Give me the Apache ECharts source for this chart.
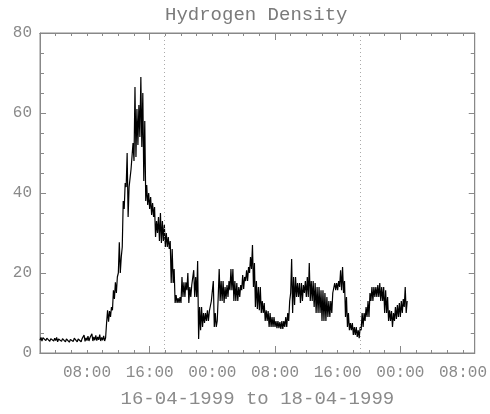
<!DOCTYPE html>
<html>
<head>
<meta charset="utf-8">
<title>Hydrogen Density</title>
<script src="https://cdn.jsdelivr.net/npm/echarts@6/dist/echarts.min.js"></script>
<style>
  html, body { margin: 0; padding: 0; background: #fff; }
  #chart { width: 490px; height: 414px; }
</style>
</head>
<body>
<div id="chart"></div>
<script>
// hours counted from 16-04-1999 00:00, one reading every quarter hour
// the trace is noisy, so each reading keeps its low and high edge
var startHour = 2;
var stepHour = 0.25;
var densityLow = [
  3.2, 3.0, 3.3, 3.1, 3.2, 2.9, 3.2, 3.0, 3.1, 2.8,
  3.0, 2.9, 3.2, 2.8, 3.0, 2.7, 3.1, 2.9, 3.2, 2.8,
  3.0, 2.8, 3.3, 2.9, 3.1, 3.0, 3.4, 3.0, 3.2, 3.1,
  3.3, 3.0, 3.2, 3.0, 7.5, 7.8, 9.0, 10.7, 13.5, 15.0,
  20.0, 20.0, 26.5, 36.0, 41.5, 34.0, 41.0, 46.5, 48.0, 49.0,
  52.0, 54.0, 51.5, 43.0, 38.0, 37.0, 36.0, 34.5, 34.0, 29.0,
  30.0, 28.0, 27.5, 28.0, 26.5, 26.5, 26.0, 17.5, 17.5, 12.5,
  12.5, 12.5, 12.5, 14.0, 14.0, 15.7, 12.5, 14.0, 16.5, 14.0,
  14.0, 3.5, 5.7, 6.5, 7.5, 8.0, 8.0, 10.0, 12.5, 6.5,
  6.5, 14.0, 13.0, 13.0, 12.5, 13.5, 14.0, 15.7, 15.7, 13.0,
  13.0, 13.0, 14.0, 15.7, 16.0, 18.0, 18.0, 20.0, 21.0, 16.5,
  11.5, 11.0, 10.7, 10.0, 10.0, 8.0, 8.0, 6.5, 6.5, 6.5,
  6.5, 6.2, 6.2, 6.0, 6.0, 6.5, 6.5, 8.0, 15.0, 10.0,
  12.0, 14.0, 14.0, 12.5, 13.0, 15.0, 14.0, 14.0, 13.0, 13.0,
  11.5, 10.0, 10.0, 10.0, 8.0, 8.0, 8.0, 9.0, 9.0, 10.0,
  15.0, 15.7, 15.7, 16.5, 15.7, 15.0, 9.0, 6.5, 5.7, 5.7,
  4.5, 4.5, 4.0, 3.7, 5.7, 6.5, 8.0, 9.0, 9.0, 13.0,
  13.0, 14.0, 14.0, 14.0, 13.0, 13.0, 10.0, 10.0, 8.0, 8.0,
  6.5, 8.0, 8.5, 9.0, 9.0, 10.0, 11.5, 10.0
];
var densityHigh = [
  3.9, 3.8, 4.0, 3.7, 3.9, 3.6, 3.8, 3.7, 3.9, 3.5,
  3.7, 3.6, 4.0, 3.5, 3.8, 3.4, 3.9, 3.7, 4.2, 3.5,
  3.9, 3.6, 4.5, 3.8, 4.2, 3.8, 4.8, 4.0, 4.4, 4.0,
  4.6, 3.9, 4.3, 3.8, 10.7, 10.5, 11.5, 15.7, 17.7, 19.0,
  27.7, 24.0, 38.0, 42.5, 50.0, 41.5, 46.0, 52.5, 66.5, 61.0,
  62.0, 69.0, 65.0, 58.0, 42.0, 40.0, 39.0, 37.5, 36.5, 33.0,
  34.0, 35.0, 33.0, 32.0, 30.0, 29.0, 28.0, 26.0, 21.0, 14.5,
  13.7, 14.0, 19.0, 17.7, 17.7, 20.0, 16.5, 17.0, 20.7, 19.0,
  23.0, 11.5, 11.5, 10.0, 10.0, 10.7, 10.5, 13.0, 18.0, 10.0,
  8.0, 21.0, 18.0, 18.0, 16.5, 17.0, 18.0, 21.0, 21.0, 18.0,
  17.5, 16.5, 17.0, 19.5, 19.0, 20.7, 21.5, 24.0, 27.0, 22.5,
  18.0, 16.5, 16.5, 13.0, 12.5, 10.7, 10.5, 10.0, 9.0, 9.0,
  8.0, 8.0, 7.7, 8.0, 8.0, 9.0, 10.0, 13.0, 23.5, 19.0,
  19.0, 17.5, 17.5, 17.5, 17.0, 18.0, 19.0, 22.5, 18.0, 18.0,
  17.5, 16.5, 16.5, 15.7, 15.7, 15.0, 14.0, 13.0, 13.0, 15.0,
  17.5, 17.5, 18.0, 20.7, 21.5, 18.0, 14.0, 10.0, 7.5, 7.5,
  6.5, 6.5, 5.7, 6.5, 10.0, 10.0, 11.5, 13.0, 15.0, 16.5,
  16.5, 16.5, 17.0, 17.5, 16.5, 16.5, 15.7, 14.0, 10.7, 10.5,
  10.0, 11.5, 12.0, 12.5, 13.0, 13.5, 16.5, 13.0
];
var xMin = 2;
var xMax = 57.5;
var labelHours = [8, 16, 24, 32, 40, 48, 56];
var minorTickHours = [4, 6, 8, 10, 12, 14, 16, 18, 20, 22, 24, 26, 28, 30, 32, 34, 36, 38, 40, 42, 44, 46, 48, 50, 52, 54, 56];
var majorTickHours = [16, 32, 48];
var markerHours = [17.9, 42.9];

// low edge, then high edge half a step later, so the trace zigzags like the noisy original
var seriesData = [];
densityLow.forEach(function (lo, i) {
  var t = startHour + i * stepHour;
  seriesData.push([t, lo]);
  seriesData.push([t + stepHour / 2, densityHigh[i]]);
});

var font = '"Liberation Mono", "DejaVu Sans Mono", monospace';
var axisColor = '#888';
var textColor = '#8a8a8a';

function hourLabel(h) {
  var hh = Math.round(h) % 24;
  return (hh < 10 ? '0' : '') + hh + ':00';
}

function xAxisDef(position, tickValues, tickLen, withLabels) {
  var ax = {
    type: 'value',
    position: position,
    min: xMin,
    max: xMax,
    splitLine: { show: false },
    axisLine: { show: true, onZero: false, lineStyle: { color: axisColor, width: 1 } },
    axisTick: { show: true, inside: true, length: tickLen, customValues: tickValues,
      lineStyle: { color: axisColor, width: 1 } },
    axisLabel: { show: false }
  };
  if (withLabels) {
    ax.axisLabel = {
      show: true, customValues: labelHours, margin: 12,
      color: textColor, fontFamily: font, fontSize: 16,
      formatter: hourLabel
    };
    ax.name = '16-04-1999 to 18-04-1999';
    ax.nameLocation = 'middle';
    ax.nameGap = 36;
    ax.nameTextStyle = { color: textColor, fontFamily: font, fontSize: 19 };
  }
  return ax;
}

function yAxisDef(position, withLabels) {
  return {
    type: 'value',
    position: position,
    min: 0,
    max: 80,
    interval: 20,
    splitLine: { show: false },
    axisLine: { show: true, lineStyle: { color: axisColor, width: 1 } },
    axisTick: { show: true, inside: true, length: 6, lineStyle: { color: axisColor, width: 1 } },
    minorTick: { show: true, splitNumber: 4, length: 4, lineStyle: { color: axisColor, width: 1 } },
    axisLabel: { show: withLabels, margin: 8, color: textColor, fontFamily: font, fontSize: 16 }
  };
}

var chart = echarts.init(document.getElementById('chart'), null, { renderer: 'canvas' });
chart.setOption({
  animation: false,
  backgroundColor: '#fff',
  title: {
    text: 'Hydrogen Density',
    left: 165,
    top: 0,
    padding: [5, 0, 5, 0],
    textStyle: { color: '#7a7a7a', fontFamily: font, fontSize: 19, fontWeight: 'normal' }
  },
  grid: { left: 40, right: 13, top: 33, bottom: 61, show: true, borderColor: axisColor, borderWidth: 1 },
  xAxis: [
    xAxisDef('bottom', minorTickHours, 3, true),
    xAxisDef('bottom', majorTickHours, 7, false),
    xAxisDef('top', minorTickHours, 3, false),
    xAxisDef('top', majorTickHours, 7, false)
  ],
  yAxis: [
    yAxisDef('left', true),
    yAxisDef('right', false)
  ],
  series: [{
    type: 'line',
    xAxisIndex: 0,
    yAxisIndex: 0,
    data: seriesData,
    showSymbol: false,
    symbol: 'none',
    sampling: null,
    lineStyle: { color: '#000', width: 1.2 },
    markLine: {
      silent: true,
      symbol: 'none',
      label: { show: false },
      lineStyle: { color: '#aaa', type: [1, 3], width: 1 },
      data: markerHours.map(function (h) { return { xAxis: h }; })
    }
  }]
});
</script>
</body>
</html>
